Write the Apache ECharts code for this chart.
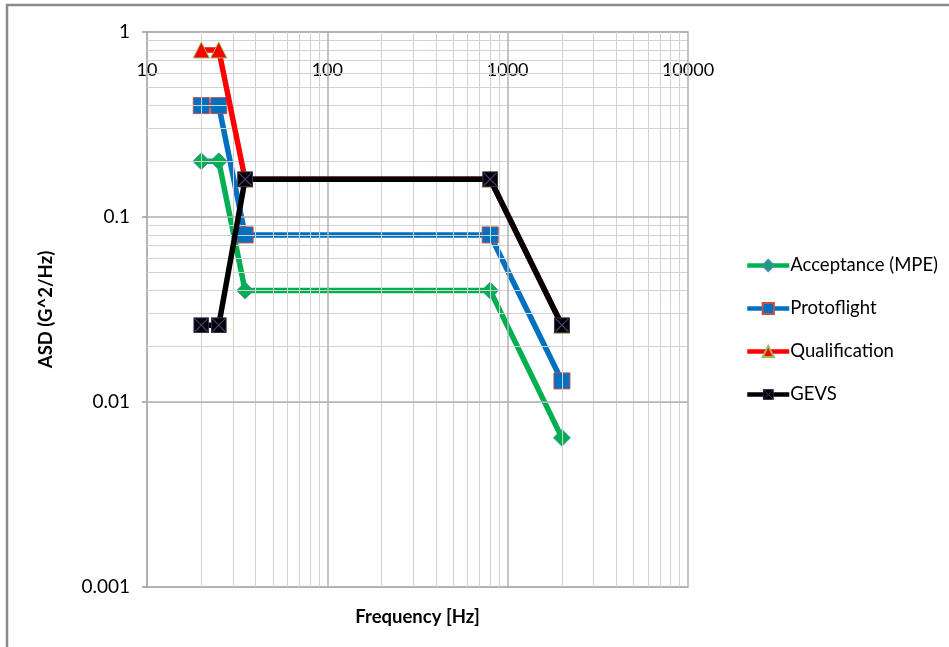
<!DOCTYPE html>
<html>
<head>
<meta charset="utf-8">
<script src="https://cdn.jsdelivr.net/npm/echarts@6/dist/echarts.min.js"></script>
<style>
  html, body { margin: 0; padding: 0; background: #ffffff; }
  #chart { width: 949px; height: 647px; }
</style>
</head>
<body>
<div id="chart"></div>
<script>
// Random vibration test levels: ASD vs frequency
var frequencies = [20, 25, 35, 800, 2000];
var acceptance = [0.2, 0.2, 0.04, 0.04, 0.0064];
var protoflight = [0.4, 0.4, 0.08, 0.08, 0.013];
var qualification = [0.8, 0.8, 0.16, 0.16, 0.026];
var gevs = [0.026, 0.026, 0.16, 0.16, 0.026];

var seriesNames = ['Acceptance (MPE)', 'Protoflight', 'Qualification', 'GEVS'];
var xTickLabels = ['10', '100', '1000', '10000'];
var yTickLabels = ['1', '0.1', '0.01', '0.001'];

// Log grid: decade lines and the 2..9 sub-divisions in between
var xMajorGrid = [100, 1000, 10000];
var xMinorGrid = [];
var yMajorGrid = [0.01, 0.1];
var yMinorGrid = [];
[10, 100, 1000].forEach(function (d) {
  for (var k = 2; k <= 9; k++) xMinorGrid.push(d * k);
});
[0.001, 0.01, 0.1].forEach(function (d) {
  for (var k = 2; k <= 9; k++) yMinorGrid.push(+(d * k).toPrecision(3));
});

var FONT = 'Lato';
var LINE_W = 5.5;

function pairs(ys) {
  return frequencies.map(function (f, i) { return [f, ys[i]]; });
}

var gevsSymbol = 'image://data:image/svg+xml;utf8,' + encodeURIComponent(
  '<svg xmlns="http://www.w3.org/2000/svg" width="28" height="28" viewBox="0 0 28 28">' +
  '<rect x="1" y="1" width="26" height="26" fill="#000000" stroke="#3b2f55" stroke-width="2"/>' +
  '<path d="M3 3 L25 25 M25 3 L3 25" stroke="#4b3d78" stroke-width="2"/>' +
  '</svg>');

function gridLines(list, axisKey, color, width) {
  return list.map(function (v) {
    var o = {}; o[axisKey] = v;
    o.lineStyle = { color: color, width: width, type: 'solid' };
    return o;
  });
}

var chart = echarts.init(document.getElementById('chart'), null, { renderer: 'canvas' });

var option = {
  backgroundColor: '#ffffff',
  animation: false,
  grid: { left: 147, right: 261, top: 32, bottom: 60, containLabel: false },
  graphic: [{
    type: 'rect',
    shape: { x: 7, y: 5, width: 1100, height: 1000 },
    style: { fill: 'none', stroke: '#8a8a8a', lineWidth: 2.5 },
    silent: true
  }],
  legend: {
    data: seriesNames,
    orient: 'vertical',
    left: 740,
    top: 251,
    itemWidth: 42,
    itemHeight: 14,
    itemGap: 24,
    lineStyle: { width: 4.5 },
    textStyle: { fontFamily: FONT, fontSize: 18.5, color: '#000000', padding: [0, 0, 0, -4] },
    selectedMode: false
  },
  xAxis: [{
    type: 'log',
    logBase: 10,
    min: 10,
    max: 10000,
    position: 'top',
    axisLine: { show: true, lineStyle: { color: '#9a9a9a', width: 1.5 } },
    axisTick: { show: false },
    splitLine: { show: false },
    axisLabel: {
      inside: true,
      margin: 29,
      fontFamily: FONT,
      fontSize: 18,
      color: '#000000',
      formatter: function (v) {
        var i = Math.round(Math.log10(v)) - 1;
        return xTickLabels[i];
      }
    }
  }, {
    type: 'log',
    logBase: 10,
    min: 10,
    max: 10000,
    position: 'bottom',
    name: 'Frequency [Hz]',
    nameLocation: 'middle',
    nameGap: 21,
    nameTextStyle: { fontFamily: FONT, fontSize: 18.5, fontWeight: 'bold', color: '#000000' },
    axisLine: { show: true, lineStyle: { color: '#9a9a9a', width: 1.5 } },
    axisTick: { show: false },
    axisLabel: { show: false },
    splitLine: { show: false }
  }],
  yAxis: {
    type: 'log',
    logBase: 10,
    min: 0.001,
    max: 1,
    name: 'ASD (G^2/Hz)',
    nameLocation: 'middle',
    nameGap: 91,
    nameRotate: 90,
    nameTextStyle: { fontFamily: FONT, fontSize: 18.5, fontWeight: 'bold', color: '#000000' },
    axisLine: { show: true, lineStyle: { color: '#9a9a9a', width: 1.5 } },
    axisTick: { show: true, length: 5, lineStyle: { color: '#9a9a9a', width: 1.5 } },
    splitLine: { show: false },
    axisLabel: {
      margin: 17,
      fontFamily: FONT,
      fontSize: 19,
      color: '#000000',
      formatter: function (v) {
        var i = -Math.round(Math.log10(v));
        return yTickLabels[i];
      }
    }
  },
  series: [
    {
      type: 'line',
      data: [],
      silent: true,
      markLine: {
        silent: true,
        symbol: 'none',
        label: { show: false },
        animation: false,
        data: []
          .concat(gridLines(xMinorGrid, 'xAxis', '#d2d2d2', 1))
          .concat(gridLines(yMinorGrid, 'yAxis', '#d2d2d2', 1))
          .concat(gridLines(xMajorGrid, 'xAxis', '#b0b0b0', 1.5))
          .concat(gridLines(yMajorGrid, 'yAxis', '#b0b0b0', 1.5))
      }
    },
    {
      name: seriesNames[0],
      type: 'line',
      data: pairs(acceptance),
      color: '#00b050',
      lineStyle: { color: '#00b050', width: LINE_W },
      symbol: 'diamond',
      symbolSize: 17,
      itemStyle: { color: '#00b050', borderColor: '#4f81bd', borderWidth: 0.8 },
      z: 3
    },
    {
      name: seriesNames[1],
      type: 'line',
      data: pairs(protoflight),
      color: '#0070c0',
      lineStyle: { color: '#0070c0', width: LINE_W },
      symbol: 'rect',
      symbolSize: 16,
      itemStyle: { color: '#0070c0', borderColor: '#c0504d', borderWidth: 1 },
      z: 4
    },
    {
      name: seriesNames[2],
      type: 'line',
      data: pairs(qualification),
      color: '#ff0000',
      lineStyle: { color: '#ff0000', width: LINE_W },
      symbol: 'triangle',
      symbolSize: 16,
      itemStyle: { color: '#ff0000', borderColor: '#9bbb59', borderWidth: 1 },
      z: 5
    },
    {
      name: seriesNames[3],
      type: 'line',
      data: pairs(gevs),
      color: '#000000',
      lineStyle: { color: '#000000', width: LINE_W },
      symbol: gevsSymbol,
      symbolSize: 16,
      itemStyle: { color: '#000000' },
      z: 6
    }
  ]
};

chart.setOption(option);
</script>
</body>
</html>
